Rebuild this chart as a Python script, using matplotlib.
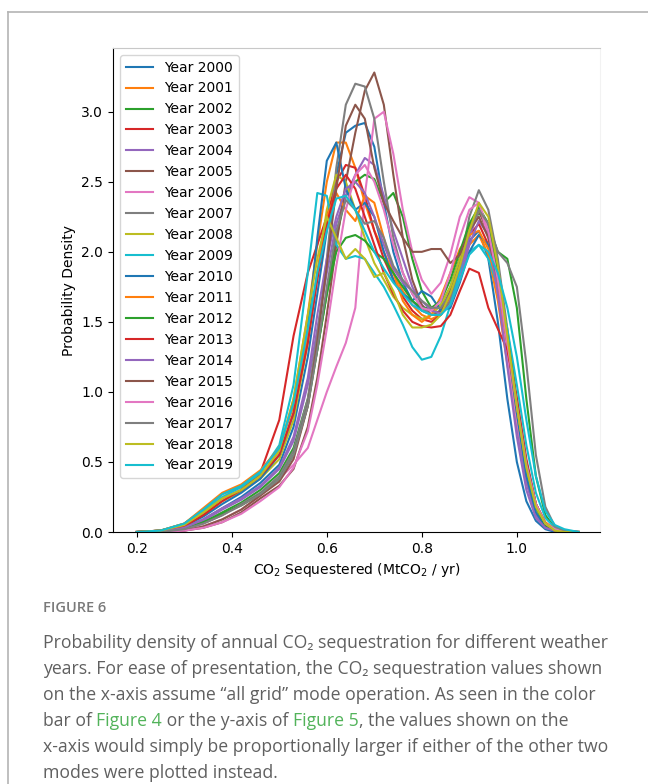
import matplotlib
matplotlib.use('Agg')
import matplotlib.pyplot as plt
from matplotlib.lines import Line2D

x = [0.20, 0.25, 0.30, 0.34, 0.38, 0.42, 0.46, 0.50, 0.53, 0.56, 0.58, 0.60, 0.62,
     0.64, 0.66, 0.68, 0.70, 0.72, 0.74, 0.76, 0.78, 0.80, 0.82, 0.84, 0.86, 0.88,
     0.90, 0.92, 0.94, 0.96, 0.98, 1.00, 1.02, 1.04, 1.06, 1.08, 1.10, 1.13]

y2000 = [0, 0.00, 0.03, 0.09, 0.17, 0.25, 0.35, 0.48, 0.75, 1.25, 1.70, 2.15, 2.55, 2.85, 2.90, 2.92, 2.75, 2.35, 2.00,
         1.78, 1.65, 1.58, 1.55, 1.58, 1.70, 1.90, 2.08, 2.15, 1.95, 1.50, 0.95, 0.50, 0.22, 0.08, 0.02, 0.00, 0, 0]
y2001 = [0, 0.01, 0.06, 0.16, 0.27, 0.32, 0.40, 0.58, 0.95, 1.55, 2.05, 2.50, 2.78, 2.78, 2.60, 2.35, 2.15, 2.00, 1.85,
         1.72, 1.62, 1.55, 1.52, 1.55, 1.68, 1.88, 2.05, 2.12, 1.98, 1.65, 1.20, 0.75, 0.38, 0.15, 0.05, 0.01, 0, 0]
y2002 = [0, 0, 0.02, 0.07, 0.14, 0.21, 0.30, 0.42, 0.60, 0.95, 1.30, 1.70, 2.10, 2.40, 2.50, 2.55, 2.52, 2.35, 2.42,
         2.25, 1.95, 1.72, 1.60, 1.62, 1.75, 1.95, 2.15, 2.28, 2.18, 2.00, 1.95, 1.60, 0.95, 0.40, 0.12, 0.03, 0.01, 0]
y2003 = [0, 0.01, 0.05, 0.14, 0.24, 0.30, 0.42, 0.80, 1.40, 1.85, 2.05, 2.25, 2.50, 2.62, 2.60, 2.40, 2.15, 1.95, 1.80,
         1.68, 1.58, 1.52, 1.50, 1.55, 1.70, 1.92, 2.12, 2.20, 2.05, 1.72, 1.28, 0.82, 0.42, 0.16, 0.05, 0.01, 0, 0]
y2004 = [0, 0, 0.02, 0.08, 0.16, 0.23, 0.32, 0.45, 0.65, 1.05, 1.45, 1.85, 2.20, 2.40, 2.55, 2.67, 2.62, 2.40, 2.15,
         1.95, 1.75, 1.62, 1.55, 1.55, 1.65, 1.85, 2.10, 2.30, 2.15, 1.75, 1.25, 0.75, 0.35, 0.12, 0.03, 0.01, 0, 0]
y2005 = [0, 0, 0.01, 0.03, 0.07, 0.14, 0.24, 0.33, 0.45, 0.75, 1.10, 1.55, 2.05, 2.50, 2.85, 3.15, 3.28, 3.05, 2.55,
         2.10, 1.80, 1.62, 1.55, 1.58, 1.72, 1.95, 2.18, 2.30, 2.12, 1.78, 1.32, 0.85, 0.45, 0.18, 0.06, 0.01, 0, 0]
y2006 = [0, 0, 0.01, 0.04, 0.09, 0.16, 0.26, 0.38, 0.48, 0.60, 0.80, 1.00, 1.18, 1.35, 1.60, 2.40, 2.95, 3.00, 2.70,
         2.30, 2.00, 1.80, 1.70, 1.78, 1.98, 2.25, 2.39, 2.35, 2.10, 1.70, 1.25, 0.80, 0.42, 0.16, 0.05, 0.01, 0, 0]
y2007 = [0, 0, 0.02, 0.06, 0.12, 0.20, 0.28, 0.40, 0.58, 0.95, 1.40, 1.95, 2.60, 3.05, 3.20, 3.18, 2.95, 2.50, 2.10,
         1.85, 1.70, 1.60, 1.55, 1.55, 1.65, 1.90, 2.25, 2.44, 2.30, 1.95, 1.45, 0.95, 0.50, 0.20, 0.06, 0.01, 0, 0]
y2008 = [0, 0.01, 0.05, 0.13, 0.22, 0.29, 0.38, 0.52, 0.80, 1.35, 1.85, 2.30, 2.55, 2.50, 2.30, 2.10, 1.92, 1.80, 1.68,
         1.60, 1.55, 1.52, 1.55, 1.62, 1.75, 1.95, 2.15, 2.30, 2.20, 1.85, 1.35, 0.85, 0.42, 0.16, 0.05, 0.01, 0, 0]
y2009 = [0, 0.01, 0.06, 0.15, 0.25, 0.32, 0.42, 0.62, 1.05, 1.85, 2.42, 2.40, 2.05, 1.95, 1.97, 1.95, 1.85, 1.75, 1.62,
         1.48, 1.32, 1.23, 1.25, 1.40, 1.62, 1.85, 2.00, 2.05, 1.95, 1.75, 1.45, 1.05, 0.62, 0.28, 0.10, 0.03, 0.01, 0]
y2010 = [0, 0.01, 0.04, 0.11, 0.20, 0.28, 0.38, 0.55, 0.85, 1.45, 2.10, 2.65, 2.78, 2.45, 2.30, 2.35, 2.25, 2.00, 1.80,
         1.70, 1.65, 1.72, 1.68, 1.58, 1.60, 1.78, 2.00, 2.12, 2.05, 1.80, 1.35, 0.85, 0.40, 0.14, 0.04, 0.01, 0, 0]
y2011 = [0, 0.01, 0.06, 0.17, 0.28, 0.34, 0.44, 0.60, 0.90, 1.40, 1.85, 2.25, 2.42, 2.30, 2.22, 2.40, 2.35, 2.10, 1.85,
         1.65, 1.55, 1.50, 1.55, 1.68, 1.85, 2.02, 2.12, 2.15, 2.02, 1.75, 1.35, 0.90, 0.48, 0.20, 0.07, 0.02, 0, 0]
y2012 = [0, 0, 0.02, 0.07, 0.13, 0.19, 0.27, 0.38, 0.55, 0.90, 1.30, 1.70, 2.00, 2.10, 2.12, 2.08, 2.00, 1.95, 1.85,
         1.75, 1.65, 1.60, 1.60, 1.65, 1.80, 2.00, 2.20, 2.32, 2.20, 1.85, 1.40, 0.92, 0.48, 0.18, 0.05, 0.01, 0, 0]
y2013 = [0, 0.01, 0.04, 0.12, 0.22, 0.30, 0.40, 0.55, 0.85, 1.35, 1.80, 2.20, 2.45, 2.55, 2.45, 2.25, 2.05, 1.85, 1.70,
         1.58, 1.50, 1.47, 1.46, 1.47, 1.55, 1.72, 1.88, 1.85, 1.60, 1.45, 1.30, 0.95, 0.52, 0.20, 0.06, 0.01, 0, 0]
y2014 = [0, 0, 0.03, 0.09, 0.17, 0.24, 0.33, 0.46, 0.68, 1.10, 1.55, 1.95, 2.25, 2.45, 2.50, 2.42, 2.25, 2.05, 1.88,
         1.78, 1.72, 1.65, 1.58, 1.56, 1.62, 1.80, 2.05, 2.22, 2.12, 1.70, 1.18, 0.68, 0.30, 0.10, 0.03, 0.01, 0, 0]
y2015 = [0, 0, 0.01, 0.04, 0.09, 0.16, 0.26, 0.36, 0.52, 0.90, 1.35, 1.90, 2.45, 2.90, 3.05, 2.95, 2.60, 2.35, 2.22,
         2.10, 2.00, 2.00, 2.02, 2.02, 1.92, 1.98, 2.15, 2.25, 2.10, 1.80, 1.38, 0.92, 0.50, 0.20, 0.06, 0.01, 0, 0]
y2016 = [0, 0, 0.01, 0.03, 0.07, 0.13, 0.22, 0.32, 0.46, 0.72, 1.05, 1.45, 1.90, 2.30, 2.55, 2.62, 2.50, 2.30, 2.05,
         1.85, 1.70, 1.60, 1.58, 1.65, 1.85, 2.10, 2.30, 2.35, 2.15, 1.80, 1.35, 0.90, 0.48, 0.20, 0.06, 0.02, 0, 0]
y2017 = [0, 0, 0.02, 0.06, 0.12, 0.19, 0.27, 0.38, 0.55, 0.90, 1.30, 1.75, 2.15, 2.37, 2.30, 2.20, 2.22, 2.10, 1.90,
         1.80, 1.72, 1.65, 1.60, 1.60, 1.70, 1.90, 2.15, 2.30, 2.20, 2.00, 1.92, 1.75, 1.20, 0.55, 0.18, 0.04, 0.01, 0]
y2018 = [0, 0.01, 0.05, 0.14, 0.24, 0.30, 0.40, 0.58, 0.95, 1.55, 1.95, 2.25, 2.10, 1.95, 2.02, 1.95, 1.82, 1.85, 1.72,
         1.55, 1.46, 1.46, 1.48, 1.55, 1.70, 1.90, 2.15, 2.35, 2.25, 1.90, 1.40, 0.90, 0.46, 0.18, 0.06, 0.01, 0, 0]
y2019 = [0, 0.01, 0.06, 0.16, 0.27, 0.33, 0.43, 0.60, 0.92, 1.45, 1.85, 2.15, 2.38, 2.40, 2.30, 2.15, 2.00, 1.88, 1.78,
         1.70, 1.62, 1.58, 1.55, 1.55, 1.62, 1.80, 1.98, 2.05, 2.00, 1.85, 1.60, 1.25, 0.80, 0.40, 0.15, 0.05, 0.02, 0]

curves = [y2000, y2001, y2002, y2003, y2004, y2005, y2006, y2007, y2008, y2009,
          y2010, y2011, y2012, y2013, y2014, y2015, y2016, y2017, y2018, y2019]
labels = ['Year %d' % yr for yr in range(2000, 2020)]

xticks = [0.2, 0.4, 0.6, 0.8, 1.0]
yticks = [0.0, 0.5, 1.0, 1.5, 2.0, 2.5, 3.0]

W, H = 648, 784
fig = plt.figure(figsize=(W / 100, H / 100), dpi=100)
ax = fig.add_axes([113 / W, 1 - 532 / H, 487 / W, 484 / H])

for lab, ys in zip(labels, curves):
    ax.plot(x, ys, label=lab)

ax.set_xlim(0.150, 1.175)
ax.set_ylim(0, 3.455)
ax.set_xticks(xticks)
ax.set_yticks(yticks)
ax.set_xlabel('CO$_2$ Sequestered (MtCO$_2$ / yr)')
ax.set_ylabel('Probability Density')
ax.spines['top'].set_color('#c8c8c8')
ax.spines['right'].set_color('#f2f2f2')
ax.legend(loc='upper left')

# page frame (left and top edge)
fig.add_artist(Line2D([8 / W, 8 / W], [0, 1 - 12 / H], transform=fig.transFigure,
                      color='#b4b4b4', lw=1.2))
fig.add_artist(Line2D([8 / W, 1], [1 - 12 / H, 1 - 12 / H], transform=fig.transFigure,
                      color='#b4b4b4', lw=1.2))

# caption
grey = '#606060'
green = '#52b35a'
cap_fam = ['Open Sans', 'DejaVu Sans']
cap_size = 12.7
fig.text(43 / W, 1 - 608 / H, 'FIGURE 6', color='#7a7a7a', fontsize=10.5,
         family=cap_fam, weight='semibold', va='center')

cap_lines = [
    [('Probability density of annual CO\u2082 sequestration for different weather', grey)],
    [('years. For ease of presentation, the CO\u2082 sequestration values shown', grey)],
    [('on the x-axis assume \u201call grid\u201d mode operation. As seen in the color', grey)],
    [('bar of ', grey), ('Figure 4', green), (' or the y-axis of ', grey), ('Figure 5', green),
     (', the values shown on the', grey)],
    [('x-axis would simply be proportionally larger if either of the other two', grey)],
    [('modes were plotted instead.', grey)],
]

renderer = fig.canvas.get_renderer()
y_px = 643
for segs in cap_lines:
    x_px = 43
    for txt, col in segs:
        t = fig.text(x_px / W, 1 - y_px / H, txt, color=col, fontsize=cap_size,
                     family=cap_fam, va='center')
        x_px += t.get_window_extent(renderer).width
    y_px += 26

fig.savefig('out.png', dpi=100)
